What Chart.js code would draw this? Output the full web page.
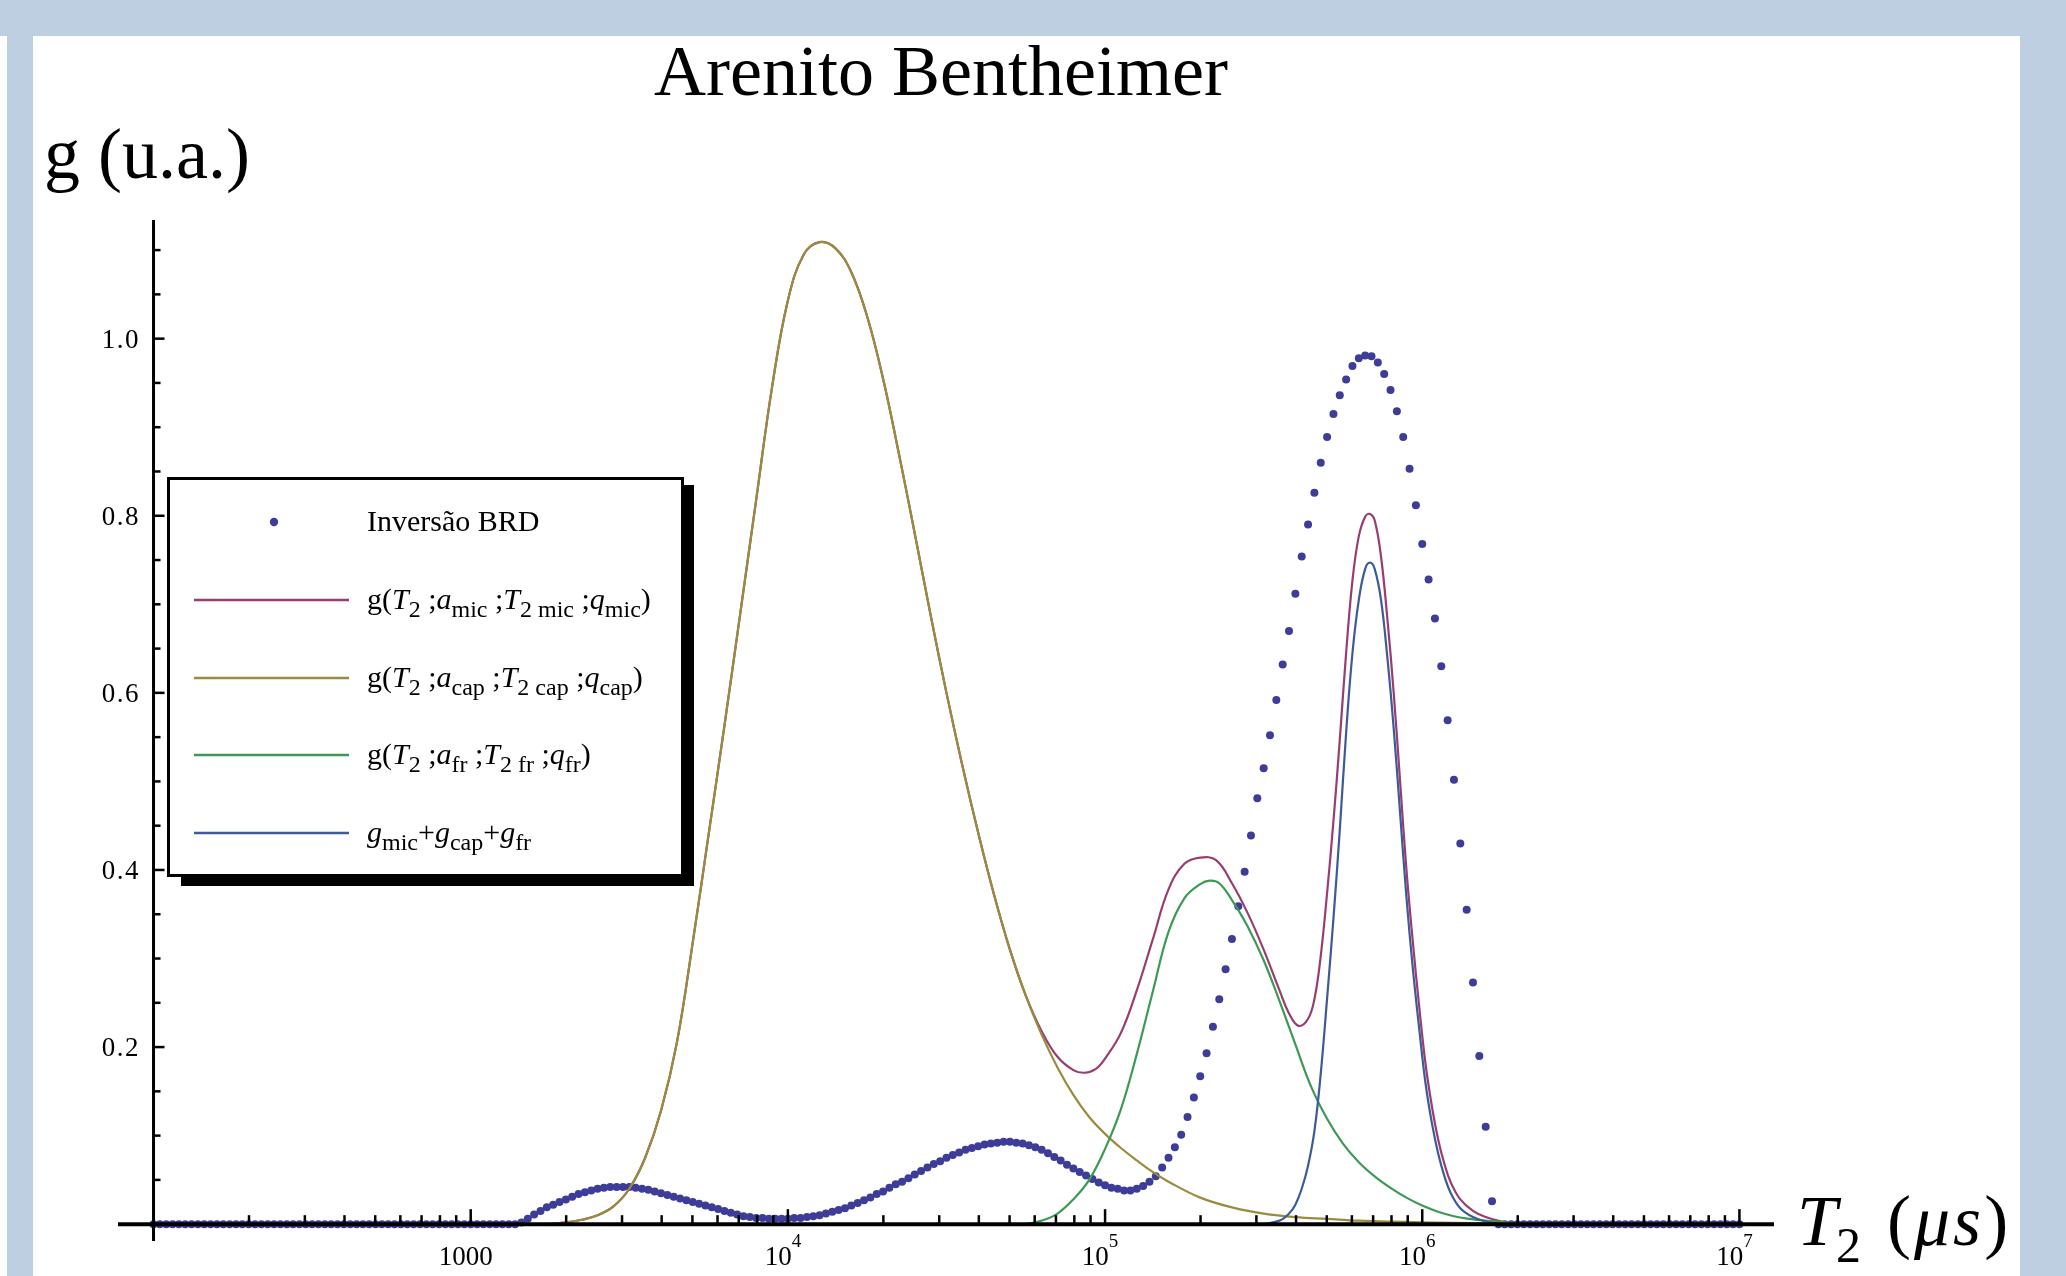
<!DOCTYPE html>
<html>
<head>
<meta charset="utf-8">
<title>Arenito Bentheimer</title>
<script src="https://cdn.jsdelivr.net/npm/chart.js@4.4.1/dist/chart.umd.min.js"></script>
<style>
  html, body { margin: 0; padding: 0; background: #ffffff; }
  #wrap { width: 2066px; height: 1276px; }
</style>
</head>
<body>
<div id="wrap"><canvas id="plot" width="2066" height="1276"></canvas></div>
<script>
// values; x is log10(T2 / us)

// Inversao BRD (dots)
const brdLogT = [
  2.00,2.02,2.04,2.06,2.08,2.10,2.12,2.14,2.16,2.18,
  2.20,2.22,2.24,2.26,2.28,2.30,2.32,2.34,2.36,2.38,
  2.40,2.42,2.44,2.46,2.48,2.50,2.52,2.54,2.56,2.58,
  2.60,2.62,2.64,2.66,2.68,2.70,2.72,2.74,2.76,2.78,
  2.80,2.82,2.84,2.86,2.88,2.90,2.92,2.94,2.96,2.98,
  3.00,3.02,3.04,3.06,3.08,3.10,3.12,3.14,3.16,3.18,
  3.20,3.22,3.24,3.26,3.28,3.30,3.32,3.34,3.36,3.38,
  3.40,3.42,3.44,3.46,3.48,3.50,3.52,3.54,3.56,3.58,
  3.60,3.62,3.64,3.66,3.68,3.70,3.72,3.74,3.76,3.78,
  3.80,3.82,3.84,3.86,3.88,3.90,3.92,3.94,3.96,3.98,
  4.00,4.02,4.04,4.06,4.08,4.10,4.12,4.14,4.16,4.18,
  4.20,4.22,4.24,4.26,4.28,4.30,4.32,4.34,4.36,4.38,
  4.40,4.42,4.44,4.46,4.48,4.50,4.52,4.54,4.56,4.58,
  4.60,4.62,4.64,4.66,4.68,4.70,4.72,4.74,4.76,4.78,
  4.80,4.82,4.84,4.86,4.88,4.90,4.92,4.94,4.96,4.98,
  5.00,5.02,5.04,5.06,5.08,5.10,5.12,5.14,5.16,5.18,
  5.20,5.22,5.24,5.26,5.28,5.30,5.32,5.34,5.36,5.38,
  5.40,5.42,5.44,5.46,5.48,5.50,5.52,5.54,5.56,5.58,
  5.60,5.62,5.64,5.66,5.68,5.70,5.72,5.74,5.76,5.78,
  5.80,5.82,5.84,5.86,5.88,5.90,5.92,5.94,5.96,5.98,
  6.00,6.02,6.04,6.06,6.08,6.10,6.12,6.14,6.16,6.18,
  6.20,6.22,6.24,6.26,6.28,6.30,6.32,6.34,6.36,6.38,
  6.40,6.42,6.44,6.46,6.48,6.50,6.52,6.54,6.56,6.58,
  6.60,6.62,6.64,6.66,6.68,6.70,6.72,6.74,6.76,6.78,
  6.80,6.82,6.84,6.86,6.88,6.90,6.92,6.94,6.96,6.98,
  7.00
];
const brdG = [
  0,0,0,0,0,0,0,0,0,0,
  0,0,0,0,0,0,0,0,0,0,
  0,0,0,0,0,0,0,0,0,0,
  0,0,0,0,0,0,0,0,0,0,
  0,0,0,0,0,0,0,0,0,0,
  0,0,0,0,0,0,0,0,0.002,0.006,
  0.011,0.015,0.019,0.022,0.025,0.028,0.031,0.034,0.036,0.038,
  0.040,0.041,0.042,0.042,0.042,0.042,0.041,0.040,0.039,0.037,
  0.035,0.033,0.031,0.029,0.027,0.025,0.023,0.021,0.019,0.017,
  0.015,0.013,0.011,0.009,0.008,0.007,0.007,0.006,0.006,0.006,
  0.006,0.007,0.007,0.008,0.009,0.010,0.012,0.014,0.016,0.018,
  0.021,0.024,0.027,0.030,0.034,0.037,0.041,0.045,0.048,0.052,
  0.056,0.060,0.064,0.068,0.071,0.075,0.078,0.081,0.084,0.086,
  0.088,0.090,0.091,0.092,0.093,0.093,0.092,0.091,0.089,0.087,
  0.084,0.080,0.076,0.072,0.067,0.063,0.059,0.055,0.051,0.047,
  0.044,0.041,0.040,0.038,0.038,0.040,0.043,0.048,0.054,0.064,
  0.075,0.087,0.101,0.121,0.143,0.167,0.193,0.223,0.254,0.288,
  0.322,0.359,0.398,0.439,0.481,0.515,0.552,0.592,0.632,0.670,
  0.712,0.754,0.790,0.826,0.860,0.889,0.915,0.936,0.954,0.969,
  0.978,0.981,0.980,0.973,0.960,0.942,0.918,0.889,0.853,0.812,
  0.768,0.728,0.684,0.630,0.569,0.502,0.430,0.355,0.273,0.190,
  0.110,0.026,0,0,0,0,0,0,0,0,
  0,0,0,0,0,0,0,0,0,0,
  0,0,0,0,0,0,0,0,0,0,
  0,0,0,0,0,0,0,0,0,0,
  0
];

// g(T2; a_cap, T2 cap, q_cap)
const capLogT = [3.25,3.30,3.35,3.40,3.45,3.50,3.55,3.60,3.65,3.70,3.75,3.80,3.85,3.90,3.95,
  4.00,4.05,4.10,4.15,4.20,4.25,4.30,4.35,4.40,4.45,4.50,4.55,4.60,4.65,4.70,4.75,4.80,
  4.85,4.90,4.95,5.00,5.05,5.10,5.15,5.20,5.30,5.40,5.50,5.60,5.70,5.80,6.00,6.20,6.40];
const capG = [0,0.002,0.005,0.010,0.020,0.040,0.075,0.128,0.205,0.318,0.440,0.563,0.690,0.818,0.945,
  1.043,1.095,1.109,1.102,1.075,1.025,0.955,0.870,0.780,0.688,0.600,0.518,0.442,0.372,0.310,0.258,0.214,
  0.177,0.146,0.121,0.102,0.086,0.072,0.059,0.048,0.030,0.019,0.012,0.008,0.006,0.004,0.002,0.001,0];

// g(T2; a_mic, T2 mic, q_mic)
const micLogT = [3.25,3.30,3.35,3.40,3.45,3.50,3.55,3.60,3.65,3.70,3.75,3.80,3.85,3.90,3.95,
  4.00,4.05,4.10,4.15,4.20,4.25,4.30,4.35,4.40,4.45,4.50,4.55,4.60,4.65,4.70,4.75,4.80,
  4.85,4.90,4.935,4.97,5.00,5.05,5.10,5.15,5.20,5.25,5.30,5.35,5.40,5.45,5.50,5.55,5.58,5.61,
  5.64,5.66,5.68,5.70,5.72,5.74,5.76,5.78,5.80,5.82,5.835,5.85,5.87,5.89,5.91,5.93,
  5.95,5.97,5.99,6.01,6.03,6.05,6.07,6.09,6.12,6.16,6.20,6.25,6.30,6.40];
const micG = [0,0.002,0.005,0.010,0.020,0.040,0.075,0.128,0.205,0.318,0.440,0.563,0.690,0.818,0.945,
  1.043,1.095,1.109,1.102,1.075,1.025,0.955,0.870,0.780,0.688,0.600,0.518,0.442,0.372,0.310,0.258,0.218,
  0.189,0.174,0.171,0.175,0.187,0.216,0.264,0.321,0.378,0.407,0.414,0.411,0.385,0.351,0.310,0.264,0.238,0.224,
  0.232,0.254,0.303,0.374,0.455,0.547,0.645,0.727,0.777,0.799,0.802,0.795,0.754,0.684,0.600,0.501,
  0.401,0.320,0.247,0.182,0.134,0.096,0.068,0.047,0.028,0.015,0.008,0.003,0.001,0];

// g(T2; a_fr, T2 fr, q_fr)
const frLogT = [4.75,4.80,4.85,4.90,4.95,5.00,5.05,5.10,5.15,5.20,5.25,5.30,5.33,5.36,5.40,5.45,
  5.50,5.55,5.60,5.65,5.70,5.75,5.80,5.85,5.90,5.95,6.00,6.05,6.10,6.15,6.20,6.30];
const frG = [0,0.004,0.012,0.028,0.050,0.085,0.130,0.192,0.262,0.330,0.368,0.384,0.388,0.385,0.366,0.336,
  0.298,0.252,0.203,0.155,0.119,0.091,0.070,0.054,0.041,0.030,0.021,0.014,0.009,0.006,0.004,0.001];

// g_mic + g_cap + g_fr
const sumLogT = [5.50,5.55,5.58,5.60,5.62,5.64,5.66,5.68,5.70,5.72,5.74,5.76,5.78,5.80,5.82,5.835,
  5.85,5.87,5.89,5.91,5.93,5.95,5.97,5.99,6.01,6.03,6.05,6.07,6.09,6.12,6.16,6.20,6.25];
const sumG = [0,0.004,0.012,0.022,0.040,0.066,0.105,0.170,0.255,0.345,0.445,0.555,0.645,0.705,0.740,0.747,
  0.740,0.705,0.640,0.560,0.465,0.370,0.290,0.222,0.160,0.115,0.080,0.054,0.035,0.018,0.008,0.003,0];

// axes
const xMajor = [3, 4, 5, 6, 7];
const xTickLabels = [['1000', ''], ['10', '4'], ['10', '5'], ['10', '6'], ['10', '7']];
const yMajor = [0.2, 0.4, 0.6, 0.8, 1.0];
const yTickLabels = ['0.2', '0.4', '0.6', '0.8', '1.0'];

const legendLabels = [
  [['Inversão BRD', 'n']],
  [['g(', 'n'], ['T', 'i'], ['2', 's'], [' ;', 'n'], ['a', 'i'], ['mic', 's'], [' ;', 'n'], ['T', 'i'], ['2 mic', 's'], [' ;', 'n'], ['q', 'i'], ['mic', 's'], [')', 'n']],
  [['g(', 'n'], ['T', 'i'], ['2', 's'], [' ;', 'n'], ['a', 'i'], ['cap', 's'], [' ;', 'n'], ['T', 'i'], ['2 cap', 's'], [' ;', 'n'], ['q', 'i'], ['cap', 's'], [')', 'n']],
  [['g(', 'n'], ['T', 'i'], ['2', 's'], [' ;', 'n'], ['a', 'i'], ['fr', 's'], [' ;', 'n'], ['T', 'i'], ['2 fr', 's'], [' ;', 'n'], ['q', 'i'], ['fr', 's'], [')', 'n']],
  [['g', 'i'], ['mic', 's'], ['+', 'n'], ['g', 'i'], ['cap', 's'], ['+', 'n'], ['g', 'i'], ['fr', 's']]
];

const colBRD = '#3d3d99';
const colMic = '#993d71';
const colCap = '#998c3d';
const colFr = '#3d9954';
const colSum = '#3d5a99';
const bandCol = '#bdcfe1';
const SERIF = '"Liberation Serif", "Times New Roman", serif';

function pairs(xs, ys) {
  return xs.map((x, i) => ({x: x, y: ys[i]}));
}

// draws text pieces: n normal, i italic, s subscript, p superscript; gap adds space after each piece
function drawRich(ctx, parts, x, y, size, gap) {
  let cx = x;
  for (const [t, k] of parts) {
    let fs = size, dy = 0;
    const style = k.includes('i') ? 'italic ' : '';
    if (k.includes('s')) { fs = Math.round(size * 0.8); dy = size * 0.25; }
    if (k.includes('p')) { fs = Math.round(size * 0.7); dy = -size * 0.4; }
    ctx.font = style + fs + 'px ' + SERIF;
    ctx.fillText(t, cx, y + dy);
    cx += ctx.measureText(t).width + (gap || 0);
  }
  return cx - x;
}

const mmaFrame = {
  id: 'mmaFrame',
  beforeDraw(chart) {
    const ctx = chart.ctx;
    ctx.save();
    ctx.fillStyle = '#ffffff';
    ctx.fillRect(0, 0, chart.width, chart.height);
    ctx.fillStyle = bandCol;
    ctx.fillRect(0, 0, chart.width, 36);
    ctx.fillRect(7, 0, 26, chart.height);
    ctx.fillRect(2020, 0, chart.width - 2020, chart.height);
    ctx.restore();
  },
  afterDraw(chart) {
    const ctx = chart.ctx;
    const xs = chart.scales.x, ys = chart.scales.y;
    const area = chart.chartArea;
    const x0 = xs.getPixelForValue(2);
    const y0 = ys.getPixelForValue(0);
    ctx.save();
    ctx.strokeStyle = '#000';
    ctx.fillStyle = '#000';
    ctx.lineCap = 'butt';

    // axis lines
    ctx.lineWidth = 4;
    ctx.beginPath();
    ctx.moveTo(area.left, y0);
    ctx.lineTo(area.right, y0);
    ctx.stroke();
    ctx.lineWidth = 3;
    ctx.beginPath();
    ctx.moveTo(x0, area.top);
    ctx.lineTo(x0, area.bottom);
    ctx.stroke();

    // x ticks
    ctx.lineWidth = 2.5;
    for (let n = 2; n <= 7; n++) {
      for (let k = 1; k <= 9; k++) {
        const v = n + Math.log10(k);
        if (v > 7.0001 || (n === 2 && k === 1)) continue;
        const px = xs.getPixelForValue(v);
        const len = k === 1 ? 15 : 9;
        ctx.beginPath();
        ctx.moveTo(px, y0);
        ctx.lineTo(px, y0 - len);
        ctx.stroke();
      }
    }
    // y ticks
    for (let j = 1; j <= 22; j++) {
      const v = j * 0.05;
      const py = ys.getPixelForValue(v);
      const len = j % 4 === 0 ? 11 : 7;
      ctx.beginPath();
      ctx.moveTo(x0, py);
      ctx.lineTo(x0 + len, py);
      ctx.stroke();
    }

    // tick labels
    ctx.textBaseline = 'alphabetic';
    ctx.textAlign = 'left';
    yMajor.forEach((v, i) => {
      const parts = yTickLabels[i].split('').map(c => [c, 'n']);
      ctx.font = '27px ' + SERIF;
      const wt = ctx.measureText(yTickLabels[i]).width + 1.5 * (parts.length - 1);
      drawRich(ctx, parts, x0 - 15 - wt, ys.getPixelForValue(v) + 9, 27, 1.5);
    });
    xMajor.forEach((v, i) => {
      const [base, ex] = xTickLabels[i];
      ctx.font = '27px ' + SERIF;
      const wb = ctx.measureText(base).width;
      ctx.font = '19px ' + SERIF;
      const we = ex ? ctx.measureText(ex).width : 0;
      const left = xs.getPixelForValue(v) - 5 - (wb + we) / 2;
      ctx.font = '27px ' + SERIF;
      ctx.fillText(base, left, 1265);
      if (ex) {
        ctx.font = '19px ' + SERIF;
        ctx.fillText(ex, left + wb, 1247);
      }
    });

    // title and axis labels
    ctx.textAlign = 'center';
    ctx.font = '72px ' + SERIF;
    ctx.fillText('Arenito Bentheimer', 941, 95);
    ctx.textAlign = 'left';
    ctx.fillText('g (u.a.)', 44, 178);
    drawRich(ctx, [['T', 'i']], 1797, 1245, 72);
    ctx.font = '50px ' + SERIF;
    ctx.fillText('2', 1836, 1262);
    drawRich(ctx, [['(', 'n'], ['\u03bc', 'i'], ['s', 'i'], [')', 'n']], 1887, 1245, 72, 3);

    // legend box with shadow
    ctx.fillStyle = '#000';
    ctx.fillRect(181, 485, 513, 401);
    ctx.fillStyle = '#fff';
    ctx.fillRect(167, 477, 517, 400);
    ctx.lineWidth = 3;
    ctx.strokeRect(168.5, 478.5, 514, 397);

    const rowY = [522, 600, 678, 755, 833];
    const rowCol = [colBRD, colMic, colCap, colFr, colSum];
    rowY.forEach((yy, i) => {
      if (i === 0) {
        ctx.fillStyle = colBRD;
        ctx.beginPath();
        ctx.arc(274, yy, 4.2, 0, Math.PI * 2);
        ctx.fill();
      } else {
        ctx.strokeStyle = rowCol[i];
        ctx.lineWidth = 2.5;
        ctx.beginPath();
        ctx.moveTo(194, yy);
        ctx.lineTo(349, yy);
        ctx.stroke();
      }
      ctx.fillStyle = '#000';
      drawRich(ctx, legendLabels[i], 367, yy + 9, 30);
    });
    ctx.restore();
  }
};

const lineStyle = (col, ord) => ({
  borderColor: col,
  backgroundColor: col,
  borderWidth: 2.2,
  pointRadius: 0,
  fill: false,
  tension: 0.4,
  order: ord
});

new Chart(document.getElementById('plot').getContext('2d'), {
  type: 'line',
  data: {
    datasets: [
      Object.assign({label: 'g_mic + g_cap + g_fr', data: pairs(sumLogT, sumG)}, lineStyle(colSum, 1)),
      Object.assign({label: 'g fr', data: pairs(frLogT, frG)}, lineStyle(colFr, 2)),
      Object.assign({label: 'g cap', data: pairs(capLogT, capG)}, lineStyle(colCap, 3)),
      Object.assign({label: 'g mic', data: pairs(micLogT, micG)}, lineStyle(colMic, 4)),
      {
        label: 'Inversão BRD',
        data: pairs(brdLogT, brdG),
        showLine: false,
        pointRadius: 4,
        pointBorderWidth: 0,
        pointBackgroundColor: colBRD,
        pointBorderColor: colBRD,
        order: 5
      }
    ]
  },
  options: {
    responsive: false,
    animation: false,
    devicePixelRatio: 1,
    layout: {padding: {left: 118, right: 292, top: 220, bottom: 35}},
    plugins: {
      legend: {display: false},
      title: {display: false},
      tooltip: {enabled: false}
    },
    scales: {
      x: {type: 'linear', min: 1.888, max: 7.109, display: false},
      y: {type: 'linear', min: -0.019, max: 1.134, display: false}
    }
  },
  plugins: [mmaFrame]
});
</script>
</body>
</html>
